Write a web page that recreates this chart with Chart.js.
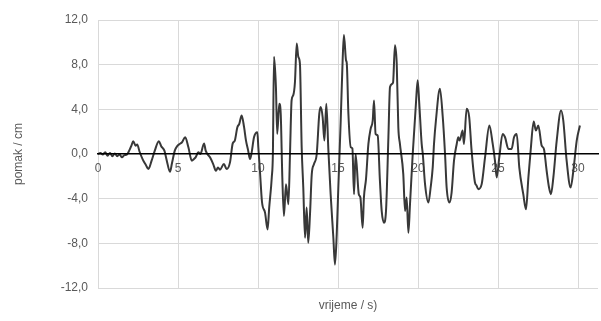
<!DOCTYPE html>
<html>
<head>
<meta charset="utf-8">
<title>pomak</title>
<script src="https://cdn.jsdelivr.net/npm/chart.js@4.4.1/dist/chart.umd.min.js"></script>
<style>
  html, body { margin: 0; padding: 0; background: #fff; }
  #wrap { width: 601px; height: 321px; }
</style>
</head>
<body>
<div id="wrap"><canvas id="pomakChart" width="601" height="321"></canvas></div>
<script>
// vrijeme (s) and pomak (cm)
const seconds = [
  0, 0.15, 0.3, 0.45, 0.6, 0.75, 0.9, 1.05, 1.2, 1.35, 1.5, 1.65, 1.8, 1.95,
  2.1, 2.2, 2.35, 2.45, 2.6, 2.8, 3.0, 3.15, 3.35, 3.55, 3.8, 3.95, 4.15, 4.3,
  4.5, 4.62, 4.8, 4.95, 5.1, 5.25, 5.45, 5.65, 5.86, 6.0, 6.1, 6.27, 6.4, 6.63,
  6.73, 7.0, 7.2, 7.37, 7.5, 7.62, 7.87, 8.04, 8.25, 8.42, 8.55, 8.71, 8.83, 8.98,
  9.13, 9.25, 9.38, 9.5, 9.6, 9.75, 9.96, 10.02, 10.12, 10.25, 10.44, 10.6, 10.7, 10.86,
  10.93, 11.0, 11.12, 11.2, 11.33, 11.42, 11.52, 11.62, 11.75, 11.9, 12.0, 12.1, 12.2, 12.31,
  12.42, 12.52, 12.62, 12.73, 12.83, 12.94, 13.04, 13.14, 13.25, 13.36, 13.5, 13.67, 13.83, 13.92,
  14.04, 14.15, 14.27, 14.4, 14.54, 14.71, 14.81, 14.92, 15.02, 15.17, 15.29, 15.37, 15.5, 15.55,
  15.65, 15.8, 15.9, 16.0, 16.1, 16.3, 16.4, 16.54, 16.62, 16.75, 16.9, 17.04, 17.17, 17.25,
  17.35, 17.48, 17.62, 17.73, 17.87, 18.0, 18.15, 18.25, 18.44, 18.56, 18.67, 18.77, 18.87, 19.08,
  19.19, 19.29, 19.4, 19.5, 19.67, 19.87, 19.98, 20.08, 20.23, 20.3, 20.44, 20.65, 20.79, 20.92,
  21.0, 21.12, 21.37, 21.54, 21.69, 21.79, 21.96, 22.1, 22.25, 22.42, 22.52, 22.6, 22.79, 22.87,
  23.04, 23.2, 23.35, 23.56, 23.65, 23.77, 23.98, 24.19, 24.46, 24.67, 24.81, 24.92, 25.08, 25.29,
  25.44, 25.65, 25.85, 26.0, 26.17, 26.33, 26.58, 26.75, 26.9, 27.04, 27.23, 27.37, 27.52, 27.73,
  27.87, 28.04, 28.19, 28.31, 28.46, 28.67, 28.94, 29.08, 29.29, 29.54, 29.71, 29.92, 30.12
];
const pomak = [
  0, 0.1, -0.05, 0.15, -0.15, 0.1, -0.2, 0.05, -0.2, -0.05, -0.3, -0.1, -0.05, 0.3,
  0.8, 1.15, 0.75, 0.85, 0.2, -0.5, -1.0, -1.35, -0.6, 0.3, 1.15, 0.7, 0.3, -0.6,
  -1.6, -0.85, 0.3, 0.7, 0.9, 1.05, 1.5, 0.6, -0.6, -0.45, -0.3, 0.15, 0.0, 0.95,
  0.3, -0.3, -0.9, -1.5, -1.2, -1.4, -0.9, -1.35, -0.75, 0.95, 1.2, 2.4, 2.7, 3.45,
  2.4, 1.2, 0.35, -0.45, 0.1, 1.5, 1.95, 0.6, -1.5, -4.3, -5.25, -6.75, -4.8, -2.1,
  0, 8.7, 6.0, 1.8, 4.5, 3.6, -2.1, -5.55, -2.7, -4.5, 0, 4.8, 5.25, 6.45,
  9.9, 8.7, 8.1, 0.6, -3.0, -7.5, -4.8, -7.95, -5.4, -1.8, -0.9, 0, 3.6, 4.2,
  3.3, 1.2, 4.5, 0.3, -3.6, -7.5, -9.9, -7.2, -3.0, 3.0, 8.4, 10.65, 8.4, 8.1,
  3.6, 0.6, 0.5, -3.6, 0, -3.6, -3.9, -6.6, -3.9, -2.25, 0.9, 2.25, 3.0, 4.8,
  1.8, 1.65, -2.4, -5.1, -6.15, -5.1, 1.5, 6.0, 6.4, 9.75, 8.1, 2.4, 0.9, -1.8,
  -5.1, -3.9, -7.05, -4.5, 0, 4.5, 6.6, 4.5, 0.9, 0, -2.7, -4.35, -3.0, -1.2,
  0.9, 3.0, 5.85, 3.45, 0, -3.0, -4.35, -3.45, -0.6, 0.9, 1.5, 1.2, 2.1, 0.9,
  4.05, 3.3, 0.3, -2.55, -2.8, -3.15, -2.7, -0.3, 2.55, 0.9, -0.6, -2.1, -0.3, 1.8,
  1.5, 0.45, 0.45, 1.5, 1.8, -1.2, -3.6, -4.95, -2.1, 0.3, 2.9, 2.1, 2.55, 0.75,
  0.45, -1.5, -3.0, -3.6, -2.1, 1.2, 3.9, 3.0, -0.6, -3.0, -1.5, 1.2, 2.55
];
const xTicks = [0, 5, 10, 15, 20, 25, 30];
const yTicks = [-12, -8, -4, 0, 4, 8, 12];

const txt = '#595959';
const grid = '#d9d9d9';
const font = { family: "'Liberation Sans', Arial, sans-serif", size: 12 };

const points = seconds.map((t, i) => ({ x: t, y: pomak[i] }));

new Chart(document.getElementById('pomakChart'), {
  type: 'line',
  data: {
    datasets: [{
      data: points,
      borderColor: '#383838',
      borderWidth: 2,
      pointRadius: 0,
      cubicInterpolationMode: 'monotone',
      fill: false
    }]
  },
  options: {
    responsive: false,
    animation: false,
    devicePixelRatio: 1,
    layout: { padding: { top: 20, right: 3, left: 0, bottom: 0 } },
    plugins: {
      legend: { display: false },
      tooltip: { enabled: false },
      title: {
        display: true,
        position: 'bottom',
        fullSize: false,
        text: 'vrijeme / s)',
        color: txt,
        font: { ...font, weight: 'normal' },
        padding: { top: 10, bottom: 8.6 }
      }
    },
    scales: {
      x: {
        type: 'linear',
        min: 0,
        max: 31.25,
        position: { y: 0 },
        afterBuildTicks: s => { s.ticks = xTicks.map(v => ({ value: v })); },
        grid: { color: grid, drawTicks: false },
        border: { color: '#000', width: 1.5, z: 1 },
        ticks: { color: txt, font, padding: 7, maxRotation: 0 }
      },
      y: {
        min: -12,
        max: 12,
        afterBuildTicks: s => { s.ticks = yTicks.map(v => ({ value: v })); },
        afterFit: s => { s.width = 98; },
        grid: {
          drawTicks: false,
          color: c => (c.tick && c.tick.value === 0) ? 'rgba(0,0,0,0)' : grid
        },
        border: { display: false },
        ticks: {
          color: txt,
          font,
          padding: 10,
          callback: v => v.toFixed(1).replace('.', ',')
        },
        title: {
          display: true,
          text: 'pomak / cm',
          color: txt,
          font,
          padding: { top: 11, bottom: 0 }
        }
      }
    }
  }
});
</script>
</body>
</html>
